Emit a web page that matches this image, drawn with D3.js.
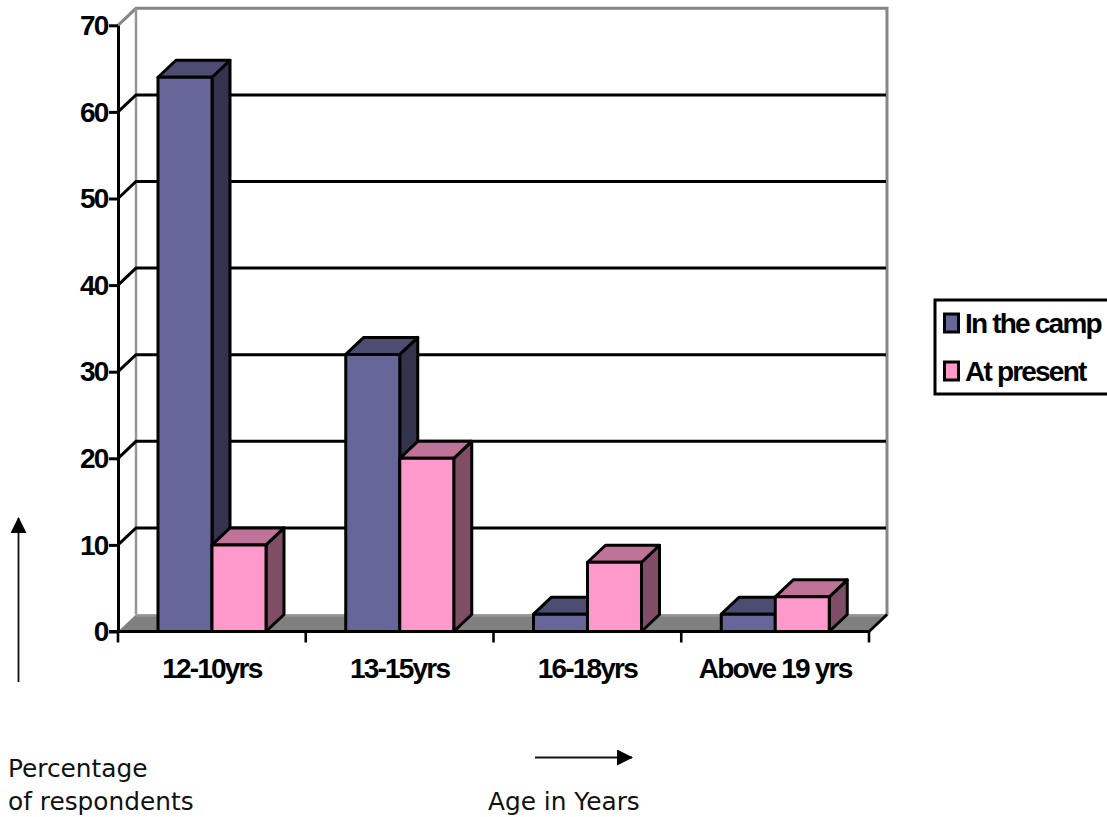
<!DOCTYPE html>
<html>
<head>
<meta charset="utf-8">
<script src="https://cdn.jsdelivr.net/npm/d3@7/dist/d3.min.js"></script>
<style>
html,body{margin:0;padding:0;background:#fff;}
svg{display:block;}
.bold{font-family:"Liberation Sans",Arial,sans-serif;font-weight:700;fill:#000;}
.note{font-family:"DejaVu Sans",sans-serif;font-size:24.8px;fill:#111;}
</style>
</head>
<body>
<svg id="chart" width="1107" height="817"></svg>
<script>
// Age bands and the share of respondents in each
const categories = ["12-10yrs", "13-15yrs", "16-18yrs", "Above 19 yrs"];
const seriesNames = ["In the camp", "At present"];
const inTheCamp = [64, 32, 2, 2];
const atPresent = [10, 20, 8, 4];
const yTicks = [0, 10, 20, 30, 40, 50, 60, 70];

const palette = {
  "In the camp": {front: "#666699", top: "#4d4d73", side: "#33334d"},
  "At present": {front: "#ff99cc", top: "#bf7399", side: "#804d66"}
};

const svg = d3.select("#chart");
const depthX = 18, depthY = 17;
const x = d3.scaleBand().domain(categories).range([118, 869]);
const inner = d3.scaleBand().domain(seriesNames).range([40, 148]);
const y = d3.scaleLinear().domain([0, 70]).range([631.5, 25.3]);
const yTop = y(70), yBase = y(0), xLeft = x.range()[0], xRight = x.range()[1];

// Floor of the 3D plot
svg.append("polygon")
  .attr("points", [[xLeft, yBase], [xLeft + depthX, yBase - depthY], [xRight + depthX, yBase - depthY], [xRight, yBase]].join(" "))
  .attr("fill", "#808080");
svg.append("line")
  .attr("x1", xLeft + depthX).attr("x2", xRight + depthX)
  .attr("y1", yBase - depthY + 1).attr("y2", yBase - depthY + 1)
  .attr("stroke", "#969696").attr("stroke-width", 2.5);

// Back wall outline, with its top-left edge running back from the axis
svg.append("path")
  .attr("d", `M${xLeft},${yTop}L${xLeft + depthX},${yTop - depthY}H${xRight + depthX}V${yBase - depthY}L${xRight},${yBase}`)
  .attr("fill", "none").attr("stroke", "#868686").attr("stroke-width", 3);
svg.append("line")
  .attr("x1", xLeft + depthX).attr("x2", xLeft + depthX)
  .attr("y1", yTop - depthY).attr("y2", yBase - depthY)
  .attr("stroke", "#969696").attr("stroke-width", 2.5);

// Gridlines: along the back wall, joined to each axis tick by a diagonal
svg.append("g").selectAll("path")
  .data(yTicks.filter(d => d > 0 && d < 70))
  .join("path")
  .attr("d", d => `M${xLeft},${y(d)}L${xLeft + depthX},${y(d) - depthY}H${xRight + depthX - 1}`)
  .attr("fill", "none").attr("stroke", "#000").attr("stroke-width", 3);

// Bars: one front, top and side face per value
const rows = categories.flatMap((c, i) => [
  {category: c, series: seriesNames[0], value: inTheCamp[i]},
  {category: c, series: seriesNames[1], value: atPresent[i]}
]);
const bars = svg.append("g").selectAll("g")
  .data(rows)
  .join("g")
  .attr("stroke", "#000")
  .attr("stroke-width", 3)
  .attr("stroke-linejoin", "round");
const corners = d => {
  const x0 = x(d.category) + inner(d.series), x1 = x0 + inner.bandwidth(), yv = y(d.value);
  return {x0, x1, yv};
};
bars.append("polygon")
  .attr("fill", d => palette[d.series].side)
  .attr("points", d => {
    const {x1, yv} = corners(d);
    return [[x1, yv], [x1 + depthX, yv - depthY], [x1 + depthX, yBase - depthY], [x1, yBase]].join(" ");
  });
bars.append("polygon")
  .attr("fill", d => palette[d.series].top)
  .attr("points", d => {
    const {x0, x1, yv} = corners(d);
    return [[x0, yv], [x0 + depthX, yv - depthY], [x1 + depthX, yv - depthY], [x1, yv]].join(" ");
  });
bars.append("rect")
  .attr("fill", d => palette[d.series].front)
  .attr("x", d => corners(d).x0)
  .attr("y", d => corners(d).yv)
  .attr("width", inner.bandwidth())
  .attr("height", d => yBase - corners(d).yv);

// Value axis
const yAxis = svg.append("g")
  .attr("transform", `translate(${xLeft},0)`)
  .call(d3.axisLeft(y).tickValues(yTicks).tickSize(9).tickPadding(1.5).tickSizeOuter(0));
yAxis.attr("font-family", null).attr("font-size", null);
yAxis.select(".domain").attr("stroke", "#000").attr("stroke-width", 3);
yAxis.selectAll(".tick line").attr("stroke", "#000").attr("stroke-width", 3);
yAxis.selectAll("text").attr("class", "bold")
  .attr("font-size", 28).attr("letter-spacing", -1.8).attr("dy", "0.33em");

// Category axis: ticks fall on the band edges, labels in the band centres
const bandEdges = categories.map(c => x(c)).concat(xRight);
const xAxisLine = svg.append("g");
xAxisLine.append("line")
  .attr("x1", xLeft - 9).attr("x2", xRight).attr("y1", yBase).attr("y2", yBase)
  .attr("stroke", "#000").attr("stroke-width", 3);
xAxisLine.selectAll(".edge").data(bandEdges).join("line")
  .attr("class", "edge")
  .attr("x1", d => d).attr("x2", d => d)
  .attr("y1", yBase).attr("y2", yBase + 11)
  .attr("stroke", "#000").attr("stroke-width", 2.6);
svg.append("line")
  .attr("x1", xRight).attr("x2", xRight + depthX)
  .attr("y1", yBase).attr("y2", yBase - depthY)
  .attr("stroke", "#000").attr("stroke-width", 2.6);
xAxisLine.selectAll("text").data(categories).join("text")
  .attr("class", "bold")
  .attr("x", d => x(d) + x.bandwidth() / 2)
  .attr("y", 678)
  .attr("text-anchor", "middle")
  .attr("font-size", 28)
  .attr("letter-spacing", -1.8)
  .text(d => d);

// Legend
const legend = svg.append("g");
legend.append("rect")
  .attr("x", 935).attr("y", 300).attr("width", 175).attr("height", 94)
  .attr("fill", "#fff").attr("stroke", "#000").attr("stroke-width", 3);
const legendY = d3.scalePoint().domain(seriesNames).range([323, 371]);
legend.selectAll("rect.key").data(seriesNames).join("rect")
  .attr("class", "key")
  .attr("x", 944.5).attr("y", d => legendY(d) - 9)
  .attr("width", 14).attr("height", 18)
  .attr("fill", d => palette[d].front)
  .attr("stroke", "#000").attr("stroke-width", 3);
legend.selectAll("text").data(seriesNames).join("text")
  .attr("class", "bold")
  .attr("x", 965).attr("y", d => legendY(d) + 10)
  .attr("font-size", 28).attr("letter-spacing", -1.8)
  .text(d => d);

// Hand-placed arrows and captions below the plot
const defs = svg.append("defs");
defs.append("marker").attr("id", "head")
  .attr("viewBox", "0 0 16 16").attr("refX", 15).attr("refY", 8)
  .attr("markerUnits", "userSpaceOnUse")
  .attr("markerWidth", 16).attr("markerHeight", 16).attr("orient", "auto")
  .append("path").attr("d", "M0,0L16,8L0,16Z").attr("fill", "#000");
svg.append("line").attr("x1", 18.5).attr("x2", 18.5).attr("y1", 682).attr("y2", 518)
  .attr("stroke", "#111").attr("stroke-width", 1.8).attr("marker-end", "url(#head)");
svg.append("line").attr("x1", 535).attr("x2", 632).attr("y1", 757.5).attr("y2", 757.5)
  .attr("stroke", "#111").attr("stroke-width", 1.8).attr("marker-end", "url(#head)");

const notes = [
  {text: "Percentage", px: 8, py: 777},
  {text: "of respondents", px: 8, py: 810},
  {text: "Age in Years", px: 488, py: 810}
];
svg.append("g").selectAll("text").data(notes).join("text")
  .attr("class", "note")
  .attr("x", d => d.px).attr("y", d => d.py)
  .text(d => d.text);
</script>
</body>
</html>
